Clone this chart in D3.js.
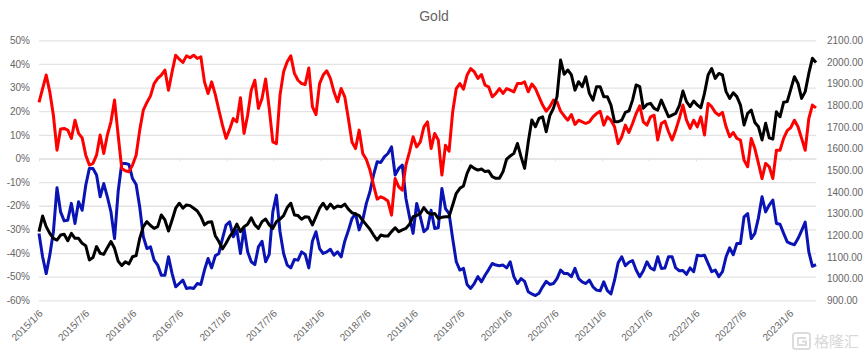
<!DOCTYPE html>
<html>
<head>
<meta charset="utf-8">
<script src="https://cdn.jsdelivr.net/npm/d3@7"></script>
<style>
  body { margin: 0; background: #fff; }
  text { font-family: "Liberation Sans", sans-serif; fill: #666; }
</style>
</head>
<body>
<svg id="chart" width="865" height="356"></svg>
<script>
// biweekly samples
let dates = d3.timeDay.range(new Date(2015, 0, 6), new Date(2023, 3, 19), 14);

let tickLabels = ["2015/1/6", "2015/7/6", "2016/1/6", "2016/7/6", "2017/1/6", "2017/7/6",
  "2018/1/6", "2018/7/6", "2019/1/6", "2019/7/6", "2020/1/6", "2020/7/6",
  "2021/1/6", "2021/7/6", "2022/1/6", "2022/7/6", "2023/1/6"];
let leftTicks = [50, 40, 30, 20, 10, 0, -10, -20, -30, -40, -50, -60];
let rightTicks = [2100, 2000, 1900, 1800, 1700, 1600, 1500, 1400, 1300, 1200, 1100, 1000, 900];

let redValues = [23.7, 29.6, 35.3, 28.2, 18.3, 3.5, 12.5, 12.7, 12, 8.5, 16.2, 10.6, 8.7, 1.4, -2.8, -2.1, 1.4, 9.9, 2.1, 9.9,
  15.5, 24.7, 9.9, -4.2, -5.2, -5.6, -2.8, 1.4, 12, 20.5, 23.7, 26.5, 31.7, 33.9, 35.3, 37.4, 28.9, 36.7, 43.7, 42,
  40.6, 43.4, 42.6, 43.7, 42.3, 43, 32.4, 27.5, 32.4, 27.1, 20.5, 14.1, 8.5, 12.3, 16.9, 15.5, 25.7, 10.6, 18.3, 28.9,
  33.1, 21.2, 25.4, 33.6, 21.2, 7, 6.3, 26.8, 36.7, 40.9, 43.4, 36, 33.1, 31.7, 31.3, 38.3, 21.9, 18.6, 31.7, 35.3,
  37.1, 33.9, 28.2, 24, 29.6, 26.1, 16.9, 7, 4.2, 12, 2.1, -0.4, -4.9, -11.3, -17.2, -16.2, -16.9, -18, -24, -8.5,
  -12, -13.4, -2.8, 2.8, 9.2, 4.9, 7, 13.4, 15.5, 4.2, 10.6, 7.8, -7, 5.6, 3.1, 19.7, 29.6, 31.7, 29.3, 35.3,
  38, 36.7, 33.9, 35.5, 31, 30.3, 26.1, 27.5, 29.6, 27.5, 29.6, 28.9, 28.2, 31.7, 31.7, 32.4, 28.2, 31.5, 29.6, 26.1,
  22.6, 20, 21.9, 24.7, 24, 20, 18, 16.2, 18.6, 14.4, 16.2, 15.5, 14.8, 15.5, 17.6, 19, 20, 14.1, 17.6, 16.2,
  13.4, 6.3, 9.2, 14.1, 11, 14.8, 19, 22.3, 15.5, 14.1, 17.6, 18.3, 7.8, 14.8, 15.8, 11.3, 7.8, 12, 16.9, 22.6,
  16.2, 12.7, 16.2, 13.4, 17.6, 9.9, 23.3, 21.9, 19.5, 18.3, 19.5, 13.4, 9.2, 11, 8.5, 7.8, -0.7, -3.5, 8.5, 4.2,
  -2.1, -8.5, -2.1, -3.5, -8.5, 3.5, 3.5, 8.5, 11.8, 13.1, 16.2, 13.4, 8.5, 3.5, 16.9, 22.6, 21.4];

let blueValues = [-31.7, -41.6, -48.7, -40.9, -31, -12.4, -22.6, -26.4, -26.1, -19, -27.5, -18.3, -21.9, -11.3, -4.2, -4.2, -7, -16.2, -10.6, -16.2,
  -22.6, -33.9, -14.1, -2.1, -2.1, -2.5, -8.5, -11, -20.5, -33.1, -38.1, -37.4, -43, -45.1, -49.4, -49.4, -41.6, -48.7, -54.3, -52.9,
  -51.5, -55, -54.7, -55, -52.9, -53.3, -47.2, -42.3, -46.3, -41.2, -40.2, -33.9, -28.2, -26.8, -33.1, -30.3, -40.2, -29.6, -39.5, -43.7,
  -44.9, -37.4, -35, -43.7, -40.6, -22.6, -15.5, -31, -40.2, -45.1, -46.3, -42.7, -43, -39.5, -40.6, -46.3, -35, -31, -38.1, -40.2,
  -39.5, -38.4, -40.9, -39.5, -41.6, -35, -30.5, -25.4, -23.3, -30.2, -26, -19, -14.1, -7, -1.4, -1.7, 0.7, 2.1, 4.9, -7,
  -4.2, -2.8, -16.9, -24.7, -31.7, -19, -24.7, -31, -29.6, -21.9, -29.6, -29.3, -12.7, -21.2, -23.3, -33.9, -43.7, -47.2, -46.5, -53.3,
  -55, -52.9, -50, -52.2, -49.4, -47, -44.4, -45.1, -45.4, -45.1, -46.3, -43.7, -50, -52.9, -50.8, -52, -56.4, -57.3, -58, -57,
  -54.3, -52, -53.3, -52.9, -50.8, -47.2, -48.7, -48.7, -50, -46.5, -50.8, -52.2, -52.9, -51.5, -54.3, -55.7, -56, -52.2, -55.9, -57.3,
  -51.5, -44.1, -41.6, -45.4, -43.9, -43.2, -47.2, -50, -47.5, -43.7, -46.3, -47.2, -41.6, -46.5, -46.3, -41.6, -41.6, -46.3, -47.5, -47.4,
  -49, -46.3, -47.9, -40.9, -41.2, -40.9, -44.4, -47.9, -47.2, -50, -47.9, -41.6, -37.8, -40.7, -36, -36, -24.7, -23.3, -33.9, -31.7,
  -25.1, -16.2, -22.6, -19.7, -17.6, -27.5, -27.8, -31.7, -35.3, -36, -36.5, -33.9, -30.5, -26.9, -39.5, -45.6, -44.9];

// gold price, right axis
let blackValues = [1217, 1289, 1240, 1209, 1186, 1178, 1201, 1205, 1175, 1209, 1186, 1186, 1163, 1152, 1086, 1097, 1148, 1117, 1112, 1143,
  1171, 1140, 1081, 1060, 1078, 1068, 1101, 1106, 1186, 1240, 1263, 1245, 1232, 1240, 1294, 1271, 1220, 1271, 1325, 1348,
  1325, 1340, 1337, 1325, 1312, 1286, 1248, 1260, 1263, 1198, 1171, 1137, 1163, 1194, 1217, 1252, 1217, 1240, 1251, 1281,
  1248, 1232, 1263, 1275, 1248, 1232, 1263, 1275, 1291, 1328, 1348, 1294, 1291, 1274, 1286, 1283, 1248, 1286, 1325, 1348,
  1321, 1344, 1325, 1335, 1332, 1344, 1321, 1304, 1298, 1291, 1268, 1248, 1228, 1201, 1178, 1201, 1197, 1197, 1217, 1235,
  1217, 1225, 1232, 1251, 1286, 1291, 1301, 1328, 1306, 1297, 1301, 1278, 1283, 1286, 1286, 1340, 1394, 1417, 1428, 1486,
  1521, 1509, 1501, 1506, 1494, 1497, 1471, 1463, 1463, 1494, 1552, 1566, 1578, 1624, 1563, 1509, 1629, 1732, 1701, 1740,
  1747, 1678, 1752, 1786, 1840, 2009, 1943, 1963, 1940, 1870, 1909, 1886, 1932, 1855, 1824, 1886, 1886, 1840, 1840, 1801,
  1724, 1724, 1732, 1767, 1774, 1824, 1894, 1886, 1786, 1804, 1809, 1786, 1778, 1824, 1786, 1747, 1755, 1763, 1798, 1866,
  1817, 1794, 1820, 1801, 1789, 1855, 1940, 1970, 1924, 1947, 1940, 1863, 1832, 1858, 1840, 1801, 1709, 1763, 1778, 1721,
  1701, 1640, 1717, 1650, 1644, 1770, 1747, 1814, 1817, 1875, 1932, 1901, 1832, 1863, 1947, 2017, 1998];

let parseDate = d3.timeParse("%Y/%m/%d");
let formatDate = d3.timeFormat("%Y/%-m/%-d");
let svg = d3.select("#chart");

// Scales:
let xScale = d3.scaleTime()
  .domain([dates[0], dates[dates.length - 1]])
  .range([39, 816]);
let yLeft = d3.scaleLinear().domain([-60, 50]).range([300.3, 40.3]);
let yRight = d3.scaleLinear().domain([900, 2100]).range([300.3, 40.3]);

// gridlines
svg.append("g")
  .attr("transform", "translate(39, 0)")
  .call(d3.axisLeft(yLeft).tickValues(leftTicks).tickSize(-777).tickFormat(""))
  .call(g => g.select(".domain").remove())
  .selectAll("line")
  .attr("stroke", "#e3e3e3")
  .attr("stroke-width", 1.3);

// Axes:
let leftAxis = svg.append("g")
  .attr("transform", "translate(39, 0)")
  .call(d3.axisLeft(yLeft).tickValues(leftTicks).tickSize(0).tickPadding(9).tickFormat(d => d + "%"));
leftAxis.select(".domain").remove();

let rightAxis = svg.append("g")
  .attr("transform", "translate(816, 0)")
  .call(d3.axisRight(yRight).tickValues(rightTicks).tickSize(0).tickPadding(11).tickFormat(d3.format(".2f")));
rightAxis.select(".domain").remove();

let tickDates = tickLabels.map(parseDate);

// axis line sits on the 0% level, labels stay low
let zeroAxis = svg.append("g")
  .attr("transform", `translate(0, ${yLeft(0)})`)
  .call(d3.axisBottom(xScale).tickValues(tickDates).tickSize(3).tickSizeOuter(0).tickFormat(""));
zeroAxis.select(".domain").attr("stroke", "#e3e3e3").attr("stroke-width", 1.3);
zeroAxis.selectAll("line").attr("stroke", "#e3e3e3");

let labelAxis = svg.append("g")
  .attr("transform", "translate(0, 313)")
  .call(d3.axisBottom(xScale).tickValues(tickDates).tickSize(0).tickFormat(formatDate));
labelAxis.select(".domain").remove();
labelAxis.selectAll("text")
  .attr("text-anchor", "end")
  .attr("dy", "0.35em")
  .attr("y", 0)
  .attr("x", 2)
  .attr("transform", "rotate(-45)");

svg.selectAll(".tick text").attr("font-size", 10).attr("font-family", '"Liberation Sans", sans-serif');

// Lines:
let leftLine = d3.line().x((d, i) => xScale(dates[i])).y(d => yLeft(d));
let rightLine = d3.line().x((d, i) => xScale(dates[i])).y(d => yRight(d));

svg.append("path").datum(blueValues)
  .attr("d", leftLine).attr("fill", "none").attr("stroke", "#0a14b4").attr("stroke-width", 3).attr("stroke-linejoin", "round");
svg.append("path").datum(redValues)
  .attr("d", leftLine).attr("fill", "none").attr("stroke", "#ff0000").attr("stroke-width", 3).attr("stroke-linejoin", "round");
svg.append("path").datum(blackValues)
  .attr("d", rightLine).attr("fill", "none").attr("stroke", "#000000").attr("stroke-width", 3).attr("stroke-linejoin", "round");

// title
svg.append("text")
  .attr("x", 434).attr("y", 21)
  .attr("text-anchor", "middle")
  .attr("font-size", 14)
  .text("Gold");

// watermark
let mark = svg.append("g").attr("fill", "none").attr("stroke", "#dcdcdc").attr("stroke-width", 2);
mark.append("rect").attr("x", 793).attr("y", 333).attr("width", 17).attr("height", 16).attr("rx", 2.5);
mark.append("path").attr("d", "M806 338H798V345H806V341.500H802");

svg.append("text")
  .attr("x", 814).attr("y", 347)
  .attr("font-size", 15)
  .style("font-family", '"Noto Sans CJK SC"')
  .style("fill", "#d8d8d8")
  .text("格隆汇");
</script>
</body>
</html>
